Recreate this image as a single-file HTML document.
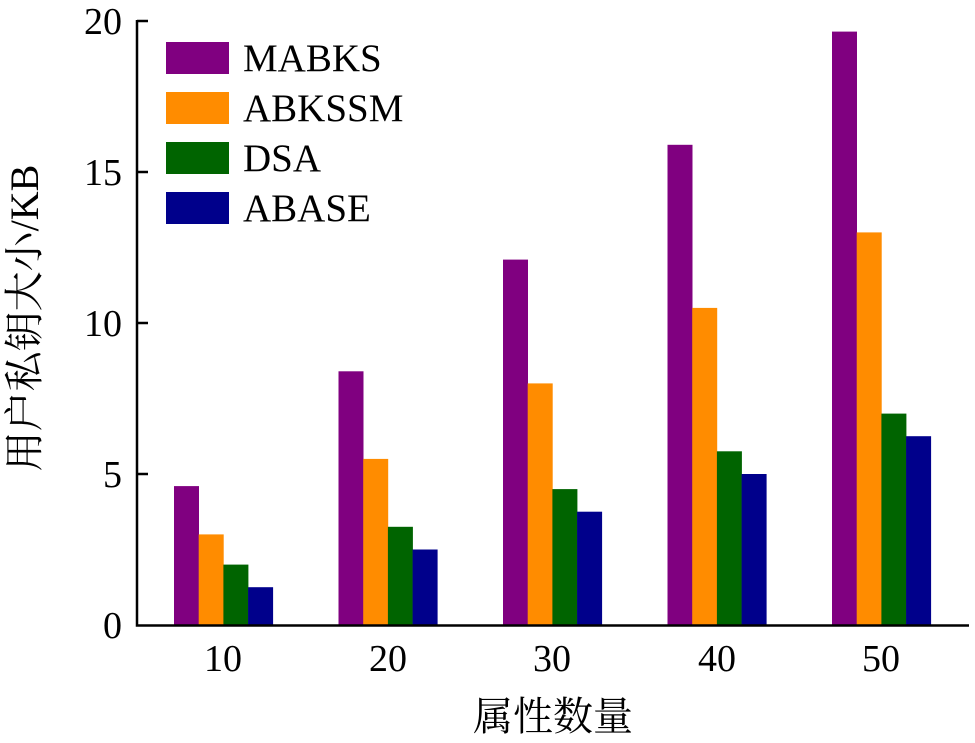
<!DOCTYPE html>
<html><head><meta charset="utf-8"><style>body{margin:0;background:#fff}svg{display:block}</style></head><body>
<svg width="975" height="743" xmlns="http://www.w3.org/2000/svg" font-family="'Liberation Serif', 'Noto Serif CJK SC', serif">
<g fill="#800080">
<rect x="174" y="486.1" width="25" height="138.9"/>
<rect x="338.5" y="371.3" width="25" height="253.7"/>
<rect x="503" y="259.6" width="25" height="365.4"/>
<rect x="667.5" y="144.8" width="25" height="480.2"/>
<rect x="832" y="31.6" width="25" height="593.4"/>
</g>
<g fill="#ff8c00">
<rect x="198.7" y="534.4" width="25" height="90.6"/>
<rect x="363.2" y="458.9" width="25" height="166.1"/>
<rect x="527.7" y="383.4" width="25" height="241.6"/>
<rect x="692.2" y="307.9" width="25" height="317.1"/>
<rect x="856.7" y="232.4" width="25" height="392.6"/>
</g>
<g fill="#006400">
<rect x="223.4" y="564.6" width="25" height="60.4"/>
<rect x="387.9" y="526.8" width="25" height="98.2"/>
<rect x="552.4" y="489.1" width="25" height="135.9"/>
<rect x="716.9" y="451.3" width="25" height="173.7"/>
<rect x="881.4" y="413.6" width="25" height="211.4"/>
</g>
<g fill="#00008b">
<rect x="248.1" y="587.2" width="25" height="37.8"/>
<rect x="412.6" y="549.5" width="25" height="75.5"/>
<rect x="577.1" y="511.7" width="25" height="113.3"/>
<rect x="741.6" y="474" width="25" height="151"/>
<rect x="906.1" y="436.2" width="25" height="188.8"/>
</g>
<g stroke="#000" stroke-width="2.5" fill="none">
<path d="M137 20 V625.5 H969"/>
<path d="M137 21 H148 M137 172 H148 M137 323 H148 M137 474 H148"/>
</g>
<g font-size="38" text-anchor="end">
<text x="122" y="34">20</text><text x="122" y="185">15</text><text x="122" y="336">10</text><text x="122" y="487">5</text><text x="122" y="638">0</text>
</g>
<g font-size="38" text-anchor="middle">
<text x="223" y="671">10</text><text x="388" y="671">20</text><text x="552" y="671">30</text><text x="717" y="671">40</text><text x="881" y="671">50</text>
</g>
<text x="553" y="730" font-size="40" text-anchor="middle">属性数量</text>
<text transform="translate(38,318) rotate(-90)" font-size="40" text-anchor="middle">用户私钥大小/KB</text>
<g font-size="39">
<rect x="166" y="42" width="63" height="32" fill="#800080"/><text x="243" y="71">MABKS</text>
<rect x="166" y="92" width="63" height="32" fill="#ff8c00"/><text x="243" y="121">ABKSSM</text>
<rect x="166" y="142" width="63" height="32" fill="#006400"/><text x="243" y="171">DSA</text>
<rect x="166" y="192" width="63" height="32" fill="#00008b"/><text x="243" y="221">ABASE</text>
</g>
</svg>
</body></html>
